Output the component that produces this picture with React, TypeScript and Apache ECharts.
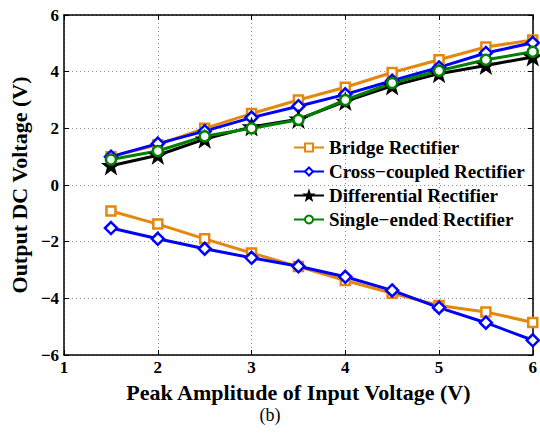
import React, { useEffect, useRef } from "react";
import * as echarts from "echarts";

const xValues = [1.5, 2, 2.5, 3, 3.5, 4, 4.5, 5, 5.5, 6];
const bridgePos = [1.0, 1.42, 2.0, 2.52, 3.0, 3.45, 3.97, 4.42, 4.87, 5.12];
const crossPos = [1.0, 1.46, 1.9, 2.38, 2.78, 3.2, 3.68, 4.15, 4.66, 5.02];
const diffPos = [0.68, 1.05, 1.62, 2.05, 2.32, 2.95, 3.5, 3.93, 4.22, 4.52];
const singlePos = [0.9, 1.2, 1.72, 2.0, 2.3, 3.0, 3.6, 4.03, 4.42, 4.7];
const bridgeNeg = [-0.92, -1.38, -1.9, -2.4, -2.88, -3.37, -3.82, -4.25, -4.48, -4.85];
const crossNeg = [-1.52, -1.9, -2.25, -2.57, -2.87, -3.24, -3.72, -4.33, -4.86, -5.48];

const seriesNames = [
  "Bridge Rectifier",
  "Cross\u2212coupled Rectifier",
  "Differential Rectifier",
  "Single\u2212ended Rectifier",
];
const xTitle = "Peak Amplitude of Input Voltage (V)";
const yTitle = "Output DC Voltage (V)";
const caption = "(b)";

const ORANGE = "#E4870C";
const BLUE = "#0000FF";
const BLACK = "#000000";
const GREEN = "#008000";
const FONT = "'Liberation Serif', 'Times New Roman', serif";
const STAR =
  "path://M0,-10L2.35,-3.24L9.51,-3.09L3.8,1.24L5.88,8.09L0,4L-5.88,8.09L-3.8,1.24L-9.51,-3.09L-2.35,-3.24Z";

const pair = (vals: number[]) => xValues.map((x, i) => [x, vals[i]]);

export default function App() {
  const ref = useRef<HTMLDivElement>(null);
  useEffect(() => {
    if (!ref.current) return;
    const chart = echarts.init(ref.current, undefined, { renderer: "svg" });
    const minus = (v: number) => String(v).replace("-", "\u2212");
    const lineSeries = (
      name: string,
      data: number[],
      color: string,
      symbol: string,
      size: number
    ) => ({
      name,
      type: "line",
      data: pair(data),
      symbol,
      symbolSize: size,
      showAllSymbol: true,
      lineStyle: { color, width: 3 },
      itemStyle: { color: symbol === STAR ? color : "#fff", borderColor: color, borderWidth: 2.5 },
      z: 3,
    });
    const axisLine = { onZero: false, lineStyle: { color: "#000", width: 1.5 } };
    const tick = { inside: true, length: 5, lineStyle: { color: "#000" } };
    const grid = { show: true, lineStyle: { color: "#888", type: [1, 3], width: 1 } };
    const titleStyle = { fontFamily: FONT, fontWeight: "bold", fontSize: 22, color: "#000" };
    const labelStyle = { fontFamily: FONT, fontWeight: "bold", fontSize: 17, color: "#000" };
    chart.setOption({
      animation: false,
      backgroundColor: "#fff",
      grid: { left: 55, top: 15, right: 1, bottom: 81, containLabel: false },
      legend: {
        orient: "vertical",
        left: 288,
        top: 133,
        itemWidth: 30,
        itemHeight: 10,
        itemGap: 5,
        textStyle: { fontFamily: FONT, fontWeight: "bold", fontSize: 19, color: "#000" },
        data: seriesNames,
      },
      xAxis: [
        {
          type: "value",
          min: 1,
          max: 6,
          interval: 1,
          name: xTitle,
          nameLocation: "middle",
          nameGap: 26,
          nameTextStyle: titleStyle,
          axisLine,
          axisTick: tick,
          axisLabel: { ...labelStyle, margin: 4 },
          splitLine: grid,
        },
        {
          type: "value",
          position: "top",
          min: 1,
          max: 6,
          interval: 1,
          axisLine,
          axisTick: tick,
          axisLabel: { show: false },
          splitLine: { show: false },
        },
      ],
      yAxis: [
        {
          type: "value",
          min: -6,
          max: 6,
          interval: 2,
          name: yTitle,
          nameLocation: "middle",
          nameGap: 27,
          nameTextStyle: titleStyle,
          axisLine,
          axisTick: tick,
          axisLabel: { ...labelStyle, margin: 5, formatter: minus },
          splitLine: grid,
        },
        {
          type: "value",
          position: "right",
          min: -6,
          max: 6,
          interval: 2,
          axisLine,
          axisTick: tick,
          axisLabel: { show: false },
          splitLine: { show: false },
        },
      ],
      graphic: [
        {
          type: "text",
          left: "center",
          top: 406,
          style: { text: caption, fontFamily: FONT, fontSize: 18, fill: "#000" },
        },
      ],
      series: [
        lineSeries(seriesNames[0], bridgePos, ORANGE, "rect", 9),
        lineSeries(seriesNames[1], crossPos, BLUE, "diamond", 12),
        lineSeries(seriesNames[2], diffPos, BLACK, STAR, 13),
        lineSeries(seriesNames[3], singlePos, GREEN, "circle", 10),
        lineSeries(seriesNames[0], bridgeNeg, ORANGE, "rect", 9),
        lineSeries(seriesNames[1], crossNeg, BLUE, "diamond", 12),
      ],
    });
    return () => chart.dispose();
  }, []);
  return <div ref={ref} style={{ width: 540, height: 436, position: "absolute", left: 0, top: 0 }} />;
}
